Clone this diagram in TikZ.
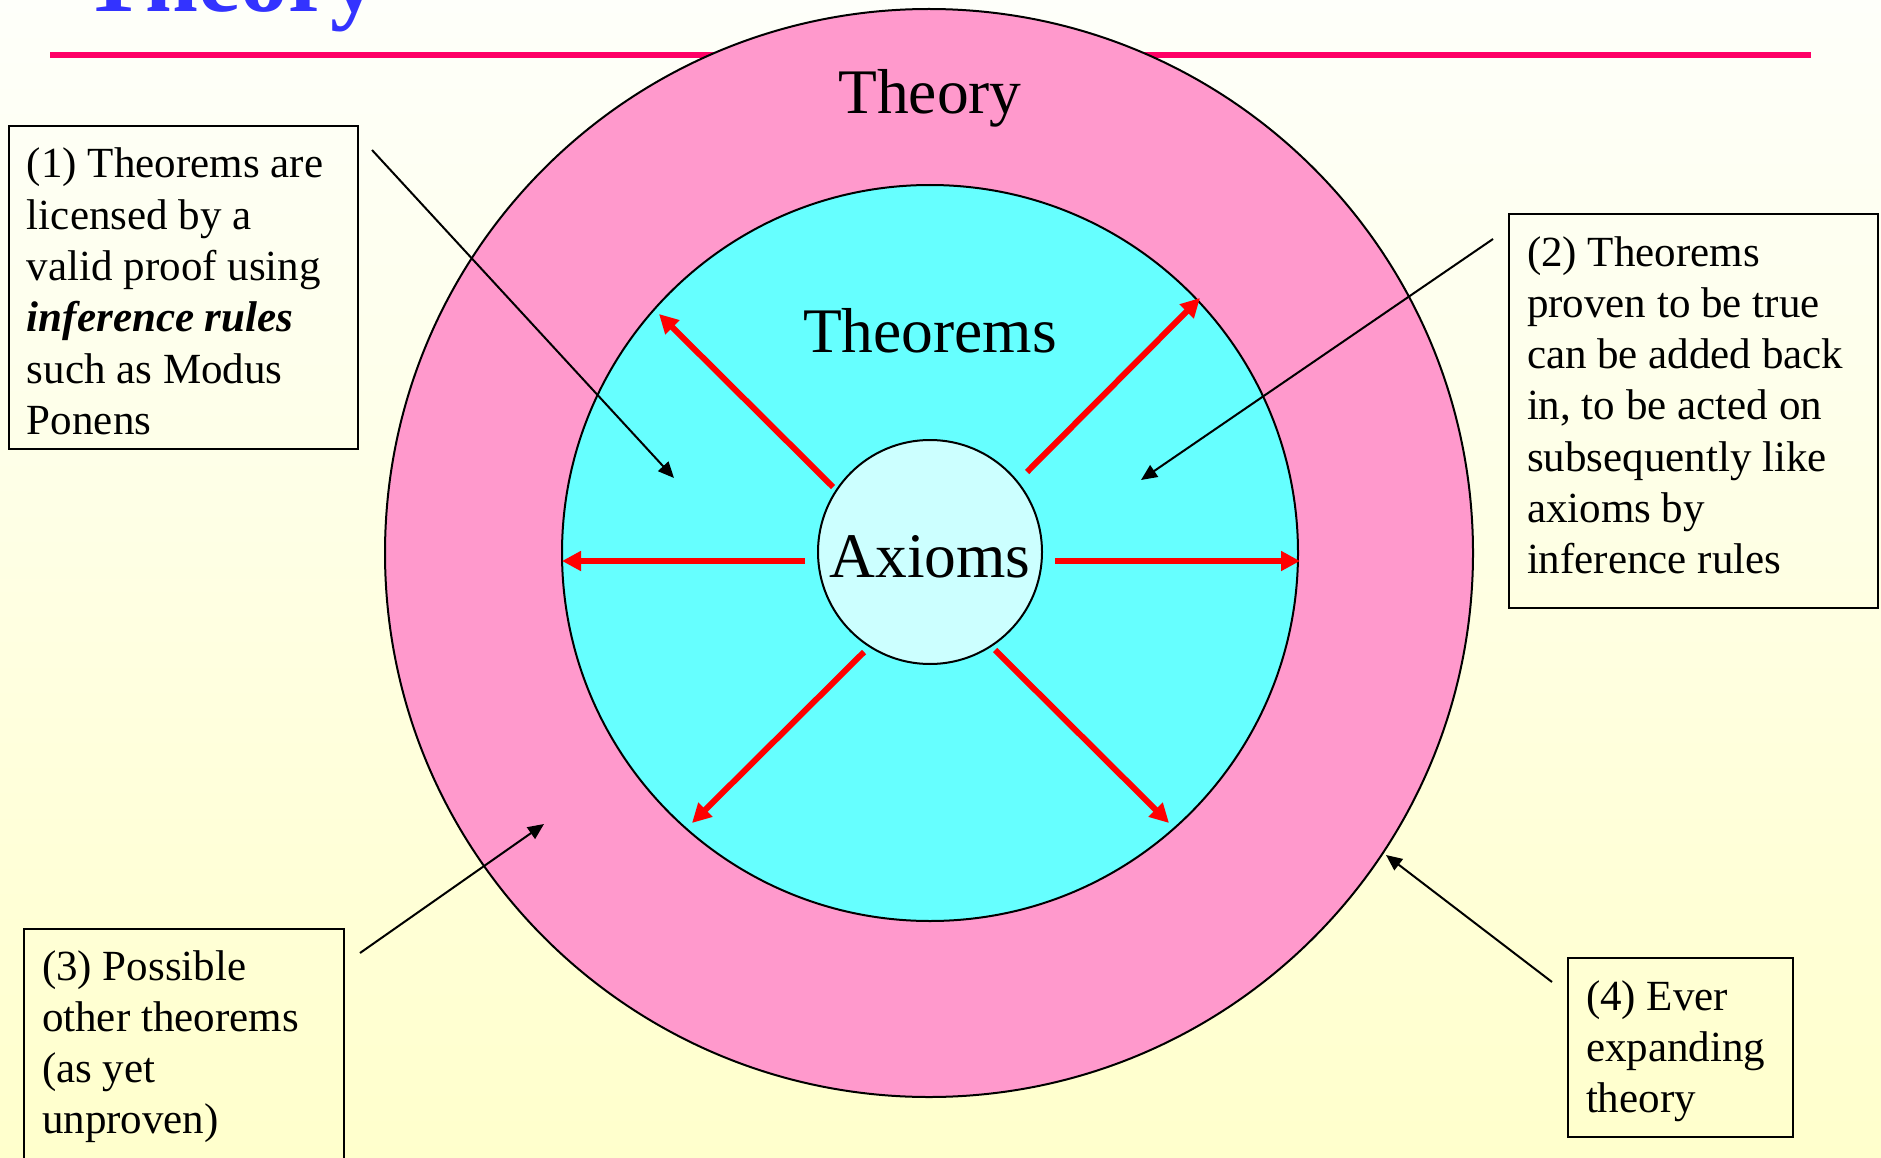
\documentclass[tikz,border=0pt]{standalone}
\usepackage{fontspec}
\setmainfont{Liberation Serif}
\usetikzlibrary{arrows.meta}
\definecolor{bgtop}{HTML}{FEFFFA}
\definecolor{bgbot}{HTML}{FFFFCC}
\definecolor{pinkring}{HTML}{FF99CC}
\definecolor{cyanring}{HTML}{66FFFF}
\definecolor{axiomfill}{HTML}{CCFFFF}
\definecolor{titleblue}{HTML}{3333FF}
\definecolor{ruleline}{HTML}{FF0066}
\definecolor{redarrow}{HTML}{FF0000}
\begin{document}
\begin{tikzpicture}[x=1pt,y=-1pt,
  ring/.style={circle, draw=black, line width=2pt, inner sep=0pt},
  biglabel/.style={font=\fontsize{63.5}{75}\selectfont, inner sep=0pt, anchor=base},
  callout/.style={draw=black, line width=2pt, inner xsep=18pt, inner ysep=0pt, anchor=base west},
  calltext/.style={},
  callarrow/.style={draw=black, line width=2pt, -{Triangle[length=16pt,width=14pt]}},
  growarrow/.style={draw=redarrow, line width=6pt, -{Triangle[length=19pt,width=19pt]}}
]
\useasboundingbox (0,0) rectangle (1881,1158);
\shade[top color=bgtop, bottom color=bgbot] (0,0) rectangle (1881,1158);

% title and rule
\node[anchor=base west, inner sep=0pt, text=titleblue, font=\fontsize{95}{100}\selectfont\bfseries] (title) at (82,12) {Theory};
\coordinate (ruleL) at (50,55);
\coordinate (ruleR) at (1811,55);
\draw[ruleline, line width=6pt] (ruleL) -- (ruleR);

% circles
\node[ring, fill=pinkring, minimum size=1088pt] (outer) at (929,553) {};
\node[ring, fill=cyanring, minimum size=736pt] (inner) at (930,553) {};
\node[ring, fill=axiomfill, minimum size=224pt] (axioms) at (930,552) {};

\node[biglabel] (theorylbl) at (930,114) {Theory};
\node[biglabel] (theoremslbl) at (930,352) {Theorems};
\node[biglabel] (axiomslbl) at (930,577) {Axioms};

% red growth arrows
\coordinate (r1s) at (833,487);  \coordinate (r1e) at (659,314);
\coordinate (r2s) at (1027,472); \coordinate (r2e) at (1200,298);
\coordinate (r3s) at (805,561);  \coordinate (r3e) at (562,561);
\coordinate (r4s) at (1055,561); \coordinate (r4e) at (1300,561);
\coordinate (r5s) at (864,652);  \coordinate (r5e) at (692,823);
\coordinate (r6s) at (995,650);  \coordinate (r6e) at (1169,823);
\draw[growarrow] (r1s) -- (r1e);
\draw[growarrow] (r2s) -- (r2e);
\draw[growarrow] (r3s) -- (r3e);
\draw[growarrow] (r4s) -- (r4e);
\draw[growarrow] (r5s) -- (r5e);
\draw[growarrow] (r6s) -- (r6e);

% callout boxes
\node[callout, text height=52pt, text depth=271pt] (box1) at (8,178)
  {\begin{minipage}[t]{313pt}\fontsize{43}{51.3}\selectfont
   (1) Theorems are\\ licensed by a\\ valid proof using\\ \textbf{\textit{inference rules}}\\ such as Modus\\ Ponens\end{minipage}};
\node[callout, text height=52pt, text depth=342pt] (box2) at (1508,266)
  {\begin{minipage}[t]{333pt}\fontsize{43}{51.3}\selectfont
   (2) Theorems\\ proven to be true\\ can be added back\\ in, to be acted on\\ subsequently like\\ axioms by\\ inference rules\end{minipage}};
\node[callout, text height=51pt, text depth=250pt] (box3) at (23,980)
  {\begin{minipage}[t]{284pt}\fontsize{43}{51.3}\selectfont
   (3) Possible\\ other theorems\\ (as yet\\ unproven)\end{minipage}};
\node[callout, text height=52pt, text depth=127pt] (box4) at (1567,1010)
  {\begin{minipage}[t]{189pt}\fontsize{43}{51.3}\selectfont
   (4) Ever\\ expanding\\ theory\end{minipage}};

% black callout arrows
\coordinate (a1s) at (372,150);  \coordinate (a1e) at (674,478);
\coordinate (a2s) at (1493,239); \coordinate (a2e) at (1141,480);
\coordinate (a3s) at (360,953);  \coordinate (a3e) at (544,824);
\coordinate (a4s) at (1552,982); \coordinate (a4e) at (1386,855);
\draw[callarrow] (a1s) -- (a1e);
\draw[callarrow] (a2s) -- (a2e);
\draw[callarrow] (a3s) -- (a3e);
\draw[callarrow] (a4s) -- (a4e);
\end{tikzpicture}
\end{document}
